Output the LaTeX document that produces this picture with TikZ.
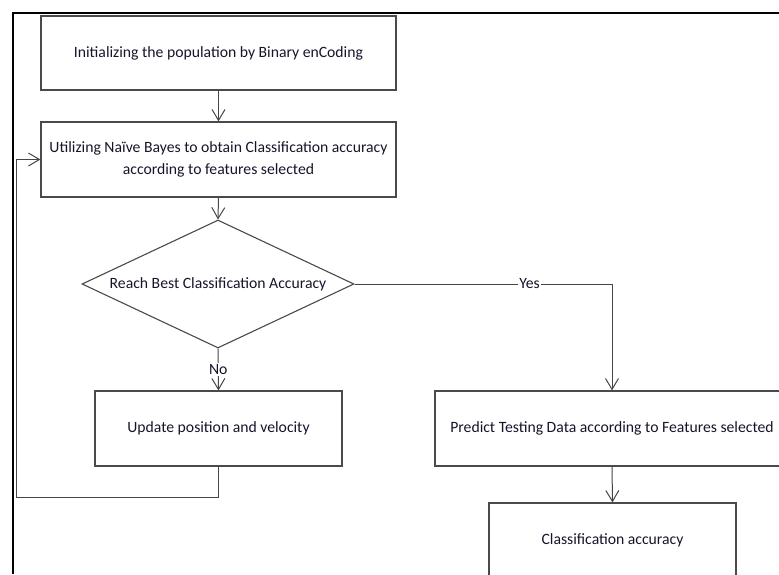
\documentclass[tikz,border=0pt]{standalone}
\usepackage{fontspec}
\setmainfont{Carlito}
\usetikzlibrary{shapes.geometric,arrows.meta}
\definecolor{boxline}{HTML}{4A4A4A}
\definecolor{conline}{HTML}{454545}
\definecolor{txt}{HTML}{15152A}
\begin{document}
\begin{tikzpicture}[x=1pt,y=-1pt,
  every node/.style={font=\fontsize{15.7}{22}\selectfont, text=txt},
  procbox/.style={draw=boxline, line width=1.2pt, rectangle, inner sep=0pt, align=center},
  decbox/.style={draw=boxline, line width=1.1pt, diamond, inner sep=0pt, shape aspect=2.1, minimum width=272pt, minimum height=128pt},
  conn/.style={draw=conline, line width=1pt},
  arr/.style={conn, -{Straight Barb[length=11pt,width=13pt,line width=1pt]}},
  lbl/.style={fill=white, inner sep=1pt}]
\useasboundingbox (0,0) rectangle (779,574);
\clip (0,0) rectangle (779,574);
% page frame
\draw[black, line width=1.8pt] (13,574) -- (13,13) -- (779,13);
% nodes
\node[procbox, minimum width=355pt, minimum height=74pt] (b1) at (218.5,53) {Initializing the population by Binary enCoding};
\node[procbox, minimum width=355pt, minimum height=75pt] (b2) at (218.5,159.5) {Utilizing Naïve Bayes to obtain Classification accuracy\\according to features selected};
\node[decbox] (d) at (218,284) {Reach Best Classification Accuracy};
\node[procbox, minimum width=247pt, minimum height=75pt] (b3) at (218.5,428.5) {Update position and velocity};
\node[procbox, minimum width=354pt, minimum height=75pt] (b4) at (612,428.5) {Predict Testing Data according to Features selected};
\node[procbox, minimum width=247pt, minimum height=75pt] (b5) at (612.5,540.5) {Classification accuracy};
\coordinate (fb) at (16,497);
% connectors
\draw[arr] (b1.south) -- (b2.north);
\draw[arr] (b2.south) -- (d.north);
\draw[arr] (d.south) -- node[lbl, midway] {No} (b3.north);
\draw[arr] (d.east) -| node[lbl, pos=0.34] {Yes} (b4.north);
\draw[arr] (b4.south) -- (b5.north);
\draw[conn] (b3.south) |- (fb);
\draw[arr] (fb) |- (b2.west);
\end{tikzpicture}
\end{document}
